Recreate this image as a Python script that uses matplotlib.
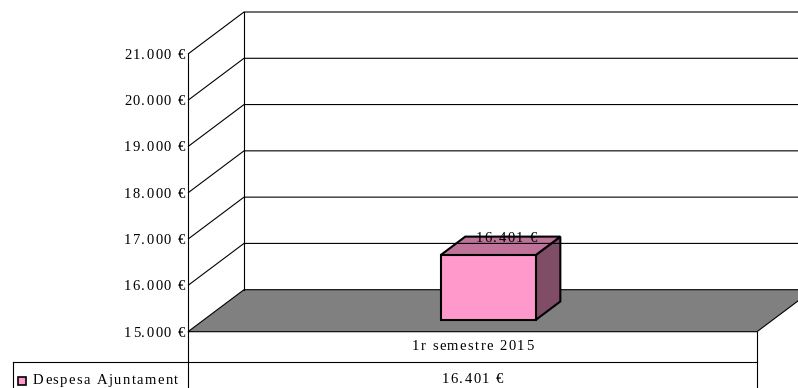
import matplotlib
matplotlib.use("Agg")
import matplotlib.pyplot as plt
from matplotlib.patches import Polygon, Rectangle
from matplotlib.transforms import blended_transform_factory
from matplotlib.font_manager import FontProperties, findfont
from matplotlib.ft2font import FT2Font

# Chart data
categories = ["1r semestre 2015"]
series_name = "Despesa Ajuntament"
values = [16401]
y_ticks = [15000, 16000, 17000, 18000, 19000, 20000, 21000]

FRONT = "#FF99CC"
TOP = "#C0739A"
SIDE = "#804D66"
FLOOR = "#808080"
FONT = "Liberation Serif"
FS = 10.5
DPI = 100
TRACK = 1.4   # extra letter spacing in pixels


def euro(v):
    return f"{v:,.0f}".replace(",", ".") + " €"


W, H = 798, 388
fig = plt.figure(figsize=(W / DPI, H / DPI), dpi=DPI)
ax = fig.add_axes([0, 0, 1, 1])
ax.set_axis_off()

_ft = FT2Font(findfont(FontProperties(family=FONT)))
_ft.set_size(FS, DPI)


def advances(s):
    out = []
    for c in s:
        g = _ft.load_char(ord(c))
        out.append(g.linearHoriAdvance / 65536)
    return out


def spaced_text(x, y, s, transform, ha="left"):
    """Draw a string with widened letter spacing, vertically centred on y."""
    adv = advances(s)
    total = sum(adv) + TRACK * (len(s) - 1)
    start = {"left": 0.0, "center": -total / 2, "right": -total}[ha]
    dy = -0.33 * FS * DPI / 72
    pos = start
    for c, a in zip(s, adv):
        if c != " ":
            ax.annotate(c, xy=(x, y), xycoords=transform, xytext=(pos, dy),
                        textcoords="offset pixels", ha="left", va="baseline",
                        fontsize=FS, family=FONT, color="black",
                        annotation_clip=False)
        pos += a + TRACK


# Plot frame geometry in pixels (measured from the top-left corner)
px_x0, px_x1 = 188, 757          # front edge of the category axis
px_base, px_top = 331.7, 54.0    # front positions of the lowest / highest tick
ymin, ymax = y_ticks[0], y_ticks[-1]
ppu_y = (px_base - px_top) / (ymax - ymin)
ppu_x = px_x1 - px_x0
ax.set_xlim(-px_x0 / ppu_x, (W - px_x0) / ppu_x)
ax.set_ylim(ymin - (H - px_base) / ppu_y, ymax + px_top / ppu_y)

# Oblique depth offset of the 3-D box
DEPTH_X = 56 / ppu_x
DEPTH_Y = 42 / ppu_y


def P(x, v, d):
    return (x + d * DEPTH_X, v + d * DEPTH_Y)


LW = 0.8
# Walls: gridlines on the side wall and the back wall
for t in y_ticks[1:]:
    xs, ys = zip(P(0, t, 0), P(0, t, 1), P(1, t, 1))
    ax.plot(xs, ys, color="black", lw=LW, solid_capstyle="butt")
xs, ys = zip(P(0, ymin, 1), P(0, ymax, 1))
ax.plot(xs, ys, color="black", lw=LW)

# Floor
floor = Polygon([P(0, ymin, 0), P(1, ymin, 0), P(1, ymin, 1), P(0, ymin, 1)],
                closed=True, facecolor=FLOOR, edgecolor="black", lw=LW)
ax.add_patch(floor)

# Bars
bar_w = 0.167
d0, d1 = 0.28, 0.72
for i, v in enumerate(values):
    xc = 0.5 + i
    xl, xr = xc - bar_w / 2, xc + bar_w / 2
    side = Polygon([P(xr, ymin, d0), P(xr, ymin, d1), P(xr, v, d1), P(xr, v, d0)],
                   closed=True, facecolor=SIDE, edgecolor="black", lw=1.5,
                   joinstyle="miter")
    top = Polygon([P(xl, v, d0), P(xr, v, d0), P(xr, v, d1), P(xl, v, d1)],
                  closed=True, facecolor=TOP, edgecolor="black", lw=1.5,
                  joinstyle="miter")
    front = Polygon([P(xl, ymin, d0), P(xr, ymin, d0), P(xr, v, d0), P(xl, v, d0)],
                    closed=True, facecolor=FRONT, edgecolor="black", lw=1.5,
                    joinstyle="miter")
    for p in (side, top, front):
        ax.add_patch(p)
    lx, ly = P(xc, v, 0.66)
    spaced_text(lx - 3 / ppu_x, ly + 1.5 / ppu_y, euro(v), ax.transData, ha="center")

# Value axis line and tick labels
ax.plot([0, 0], [ymin, ymax], color="black", lw=LW)
for t in y_ticks:
    spaced_text(-3 / ppu_x, t, euro(t), ax.transData, ha="right")

# Data table below the plot
fT = fig.transFigure
bt = blended_transform_factory(ax.transData, fT)


def fy(py):
    return 1 - py / H


def fx(px):
    return px / W


row1_top, row2_top = px_base, 362
ax.plot([fx(12.7), fx(px_x1)], [fy(row2_top), fy(row2_top)], color="black",
        lw=LW, transform=fT, clip_on=False)
ax.plot([fx(px_x0), fx(px_x0)], [fy(row1_top), 0], color="black", lw=LW,
        transform=fT, clip_on=False)
ax.plot([fx(px_x1), fx(px_x1)], [fy(row1_top), 0], color="black", lw=LW,
        transform=fT, clip_on=False)
ax.plot([fx(12.7), fx(12.7)], [fy(row2_top), 0], color="black", lw=LW,
        transform=fT, clip_on=False)

for i, (cat, v) in enumerate(zip(categories, values)):
    spaced_text(0.5 + i, fy(345.5), cat, bt, ha="center")
    spaced_text(0.5 + i, fy(378.5), euro(v), bt, ha="center")

# Legend key in the row header
ax.add_patch(Rectangle((fx(17.5), fy(384.5)), 8 / W, 8 / H, transform=fT,
                       facecolor=FRONT, edgecolor="black", lw=1.2, clip_on=False))
spaced_text(fx(33), fy(379.5), series_name, fT, ha="left")

fig.savefig("out.png", dpi=DPI)
